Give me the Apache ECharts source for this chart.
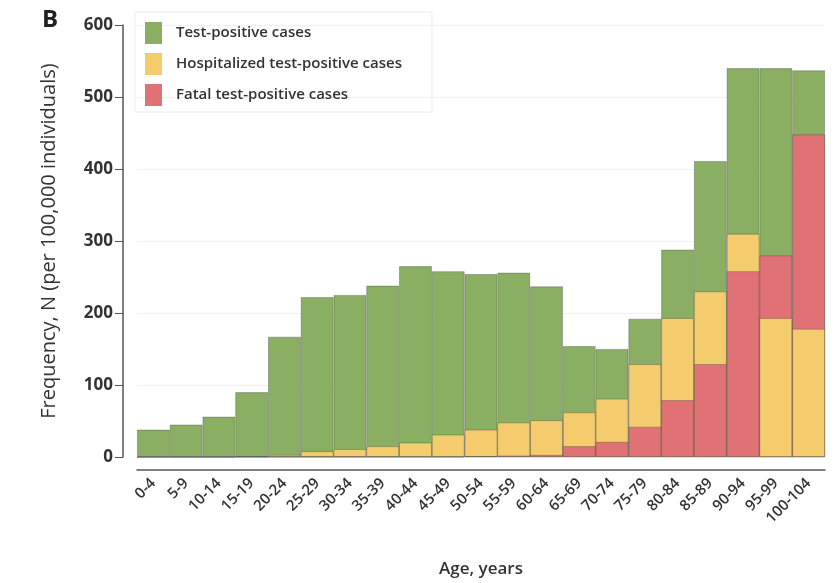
<!DOCTYPE html>
<html>
<head>
<meta charset="utf-8">
<script src="https://cdn.jsdelivr.net/npm/echarts@6/dist/echarts.min.js"></script>
<style>html,body{margin:0;padding:0;background:#fff}#c{width:840px;height:583px}</style>
</head>
<body>
<div id="c"></div>
<script>
const ageGroups = ['0-4','5-9','10-14','15-19','20-24','25-29','30-34','35-39','40-44','45-49','50-54','55-59','60-64','65-69','70-74','75-79','80-84','85-89','90-94','95-99','100-104'];
const testPositive = [38, 45, 56, 90, 167, 222, 225, 238, 265, 258, 254, 256, 237, 154, 150, 192, 288, 411, 540, 540, 537];
const hospitalized = [0, 0, 0, 1, 3, 8, 11, 15, 20, 31, 38, 48, 51, 62, 81, 129, 193, 230, 310, 193, 178];
const fatal = [0, 0, 0, 0, 0, 0, 0, 0, 0, 0, 1, 2, 3, 15, 21, 42, 79, 129, 258, 280, 448];
const yTicks = [0, 100, 200, 300, 400, 500, 600];

const GREEN = '#8aae62', YELLOW = '#f5cc6d', RED = '#e07276';
const FONT = 'Open Sans';
const border = {borderColor: 'rgba(60,60,60,0.4)', borderWidth: 0.8};
// shorter segment is drawn in front
const hospFront = hospitalized.map((h, i) => h < fatal[i] ? h : '-');

const chart = echarts.init(document.getElementById('c'), null, {renderer: 'canvas'});
chart.setOption({
  animation: false,
  backgroundColor: '#fff',
  title: {text: 'B', left: 37, top: 3, textStyle: {fontFamily: FONT, fontWeight: 'bold', fontSize: 24, color: '#222'}},
  legend: {
    data: ['Test-positive cases', 'Hospitalized test-positive cases', 'Fatal test-positive cases'],
    orient: 'vertical', left: 135, top: 12,
    padding: [10, 30, 6, 10],
    borderColor: '#ececec', borderWidth: 1,
    itemWidth: 17, itemHeight: 22, itemGap: 9,
    icon: 'rect',
    itemStyle: {borderWidth: 0},
    textStyle: {fontFamily: FONT, fontWeight: 600, fontSize: 15, color: '#333', padding: [0, 0, 0, 9]}
  },
  grid: {left: 137, right: 15, top: 25, bottom: 125},
  xAxis: {
    type: 'category', data: ageGroups, offset: 13,
    name: 'Age, years', nameLocation: 'middle', nameGap: 91,
    nameTextStyle: {fontFamily: FONT, fontWeight: 600, fontSize: 17, color: '#333'},
    axisLine: {onZero: false, lineStyle: {color: '#555', width: 1.5}},
    axisTick: {alignWithLabel: true, length: 8, lineStyle: {color: '#555'}},
    axisLabel: {rotate: 45, interval: 0, margin: 11, fontFamily: FONT, fontWeight: 600, fontSize: 15, color: '#333'}
  },
  yAxis: {
    type: 'value', min: 0, max: 600, interval: 100, offset: 14,
    name: 'Frequency, N (per 100,000 individuals)', nameLocation: 'middle', nameGap: 64,
    nameTextStyle: {fontFamily: FONT, fontSize: 20, color: '#333'},
    axisLine: {show: true, lineStyle: {color: '#555', width: 1.5}},
    axisTick: {show: true, length: 8, lineStyle: {color: '#555'}},
    axisLabel: {fontFamily: FONT, fontWeight: 'bold', fontSize: 17, color: '#333', margin: 10,
      formatter: v => yTicks.includes(v) ? String(v) : ''},
    splitLine: {show: true, lineStyle: {color: '#f0f0f0', width: 1}}
  },
  series: [
    {name: 'Test-positive cases', type: 'bar', data: testPositive, barWidth: '100%', barGap: '-100%',
     itemStyle: Object.assign({color: GREEN}, border)},
    {name: 'Hospitalized test-positive cases', type: 'bar', data: hospitalized, barWidth: '100%', barGap: '-100%',
     itemStyle: Object.assign({color: YELLOW}, border)},
    {name: 'Fatal test-positive cases', type: 'bar', data: fatal, barWidth: '100%', barGap: '-100%',
     itemStyle: Object.assign({color: RED}, border)},
    {name: 'Hospitalized test-positive cases', type: 'bar', data: hospFront, barWidth: '100%', barGap: '-100%',
     itemStyle: Object.assign({color: YELLOW}, border)}
  ]
});
</script>
</body>
</html>
